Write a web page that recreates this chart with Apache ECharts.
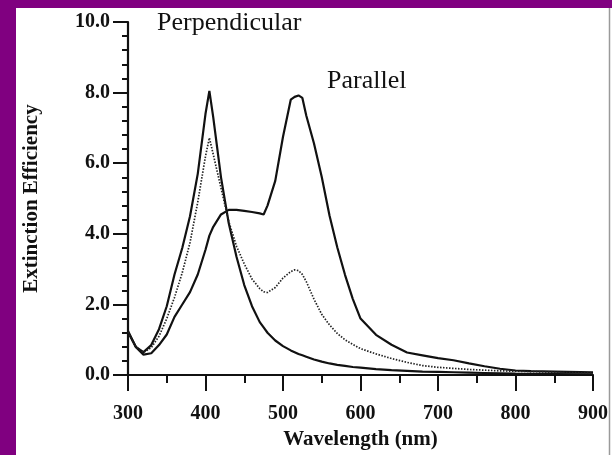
<!DOCTYPE html>
<html>
<head>
<meta charset="utf-8">
<title>Extinction Efficiency vs Wavelength</title>
<script src="https://cdn.jsdelivr.net/npm/echarts@6/dist/echarts.min.js"></script>
<style>
  html, body { margin: 0; padding: 0; background: #800080; }
  #chart { width: 612px; height: 455px; }
</style>
</head>
<body>
<div id="chart"></div>
<script>
// Wavelength sampling points (nm), shared by all three spectra
const wavelengths = [300, 310, 320, 330, 340, 350, 360, 370, 380, 390, 400, 405, 410, 420, 430, 440,
  450, 460, 470, 475, 480, 490, 500, 510, 515, 520, 525, 530, 540, 550, 560, 570, 580, 590, 600,
  620, 640, 660, 680, 700, 720, 740, 760, 780, 800, 820, 850, 900];

// Extinction efficiency, perpendicular polarisation (solid, peak near 405 nm)
const perpendicular = [1.25, 0.8, 0.65, 0.85, 1.3, 1.95, 2.85, 3.6, 4.5, 5.7, 7.4, 8.05, 7.3, 5.6, 4.3, 3.35,
  2.55, 1.95, 1.5, 1.35, 1.2, 0.98, 0.82, 0.7, 0.65, 0.6, 0.56, 0.52, 0.44, 0.38, 0.33, 0.29, 0.26, 0.23, 0.21,
  0.17, 0.14, 0.12, 0.1, 0.09, 0.08, 0.07, 0.06, 0.05, 0.04, 0.035, 0.03, 0.02];

// Extinction efficiency, parallel polarisation (solid, shoulder ~430 nm, peak near 520 nm)
const parallel = [1.22, 0.8, 0.58, 0.62, 0.85, 1.15, 1.65, 2.0, 2.35, 2.85, 3.55, 3.95, 4.2, 4.55, 4.68, 4.68,
  4.65, 4.62, 4.58, 4.55, 4.8, 5.5, 6.75, 7.8, 7.88, 7.92, 7.85, 7.35, 6.56, 5.61, 4.52, 3.62, 2.84, 2.16, 1.6,
  1.14, 0.86, 0.64, 0.56, 0.48, 0.42, 0.33, 0.25, 0.18, 0.13, 0.11, 0.1, 0.08];

// Orientation-averaged extinction efficiency (dotted)
const averaged = [1.22, 0.8, 0.64, 0.78, 1.1, 1.6, 2.2, 2.9, 3.75, 4.9, 6.2, 6.72, 6.25, 5.3, 4.35, 3.65,
  3.15, 2.72, 2.45, 2.36, 2.34, 2.48, 2.75, 2.93, 2.98, 2.96, 2.85, 2.65, 2.15, 1.72, 1.42, 1.18, 1.0, 0.87, 0.75,
  0.6, 0.47, 0.36, 0.27, 0.22, 0.19, 0.16, 0.14, 0.12, 0.11, 0.1, 0.08, 0.06];

const pairs = (ys) => wavelengths.map((x, i) => [x, ys[i]]);

const serif = "'Liberation Serif', 'Times New Roman', serif";
const ink = '#111';

const chart = echarts.init(document.getElementById('chart'), null, { renderer: 'canvas' });

chart.setOption({
  animation: false,
  backgroundColor: '#800080',
  graphic: [
    { type: 'rect', z: -10, silent: true,
      shape: { x: 16, y: 8, width: 596, height: 447 },
      style: { fill: '#ffffff' } },
    { type: 'line', z: -9, silent: true,
      shape: { x1: 609.5, y1: 8, x2: 609.5, y2: 455 },
      style: { stroke: '#9a9a9a', lineWidth: 1.5 } },
    { type: 'text', left: 157, top: 10, silent: true,
      style: { text: 'Perpendicular', font: '26px ' + serif, fill: ink } },
    { type: 'text', left: 327, top: 68, silent: true,
      style: { text: 'Parallel', font: '26px ' + serif, fill: ink } }
  ],
  grid: { left: 128, right: 19, top: 22, bottom: 79, containLabel: false },
  xAxis: {
    type: 'value', min: 300, max: 900, interval: 100,
    name: 'Wavelength (nm)', nameLocation: 'middle', nameGap: 50,
    nameTextStyle: { fontFamily: serif, fontWeight: 'bold', fontSize: 21, color: ink },
    axisLine: { onZero: false, lineStyle: { color: ink, width: 2.2 } },
    axisTick: { inside: false, length: 16, lineStyle: { color: ink, width: 2 } },
    minorTick: { show: true, splitNumber: 2, length: 8, lineStyle: { color: ink, width: 2 } },
    axisLabel: { margin: 29, fontFamily: serif, fontWeight: 'bold', fontSize: 20, color: ink },
    splitLine: { show: false }
  },
  yAxis: {
    type: 'value', min: 0, max: 10, interval: 2,
    name: 'Extinction Efficiency', nameLocation: 'middle', nameGap: 86,
    nameTextStyle: { fontFamily: serif, fontWeight: 'bold', fontSize: 21, color: ink },
    axisLine: { onZero: false, lineStyle: { color: ink, width: 2.2 } },
    axisTick: { inside: false, length: 15, lineStyle: { color: ink, width: 2 } },
    minorTick: { show: true, splitNumber: 5, length: 6, lineStyle: { color: ink, width: 2 } },
    axisLabel: { margin: 18, fontFamily: serif, fontWeight: 'bold', fontSize: 20, color: ink,
      formatter: (v) => v.toFixed(1) },
    splitLine: { show: false }
  },
  series: [
    { name: 'Perpendicular', type: 'line', data: pairs(perpendicular), showSymbol: false,
      lineStyle: { color: ink, width: 2.2 } },
    { name: 'Parallel', type: 'line', data: pairs(parallel), showSymbol: false,
      lineStyle: { color: ink, width: 2.2 } },
    { name: 'Orientation average', type: 'line', data: pairs(averaged), showSymbol: false,
      lineStyle: { color: '#222', width: 1.7, type: [1.5, 1.5] } }
  ]
});
</script>
</body>
</html>
